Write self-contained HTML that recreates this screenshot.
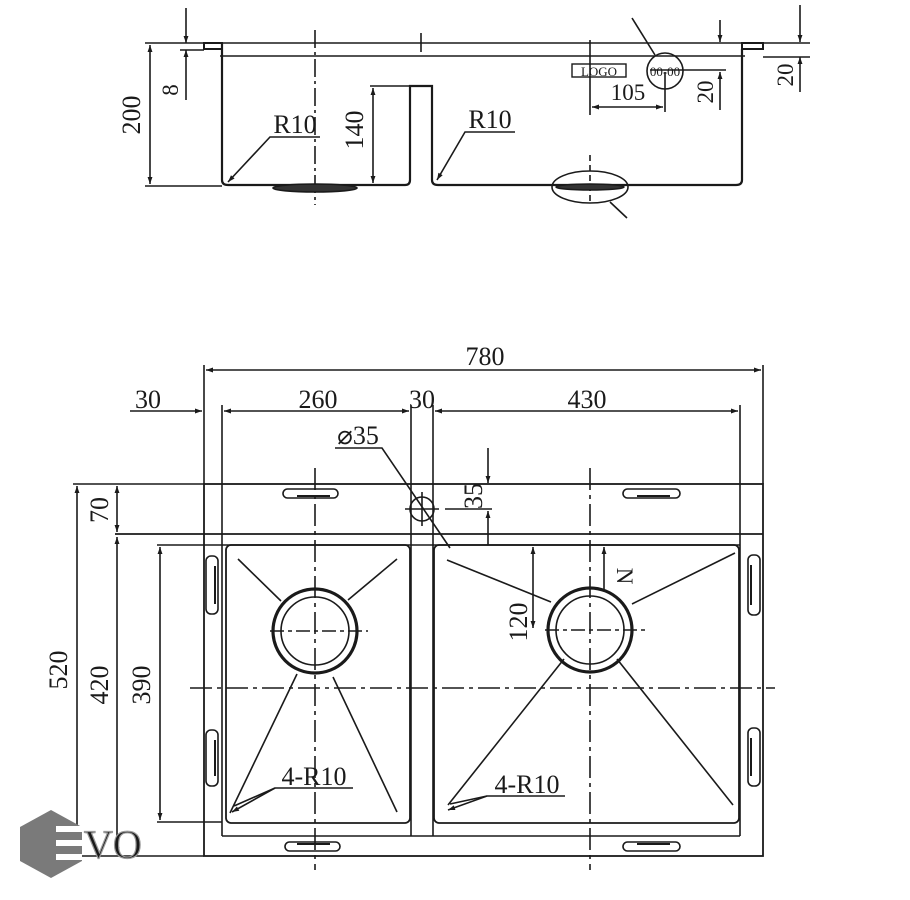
<!DOCTYPE html>
<html><head><meta charset="utf-8"><style>
html,body{margin:0;padding:0;background:#fff;}
svg{display:block;}
text{font-family:"Liberation Serif",serif;fill:#1a1a1a;}
</style></head><body>
<svg width="910" height="900" viewBox="0 0 910 900" xmlns="http://www.w3.org/2000/svg">
<defs>
<marker id="a" viewBox="0 0 10 10" refX="10" refY="5" markerWidth="10" markerHeight="7" orient="auto-start-reverse" markerUnits="userSpaceOnUse"><path d="M0,1.5 L10,5 L0,8.5 Z" fill="#1a1a1a"/></marker>
</defs>
<g stroke="#1a1a1a" stroke-width="1.6" fill="none">
<line x1="145" y1="43" x2="810" y2="43"/>
<line x1="220" y1="56" x2="745" y2="56"/>
<rect x="204" y="43" width="18" height="6" stroke-width="2"/>
<rect x="742" y="43" width="21" height="6" stroke-width="2"/>
<path d="M222,43 V180 Q222,185 228,185 H405 Q410,185 410,180 V86 H432 V180 Q432,185 438,185 H736 Q742,185 742,180 V49" stroke-width="2.2"/>
<line x1="145" y1="186" x2="222" y2="186"/>
<line x1="150" y1="45" x2="150" y2="184" marker-start="url(#a)" marker-end="url(#a)"/>
<line x1="186" y1="8" x2="186" y2="43" marker-end="url(#a)"/>
<line x1="186" y1="100" x2="186" y2="50" marker-end="url(#a)"/>
<line x1="180" y1="50" x2="204" y2="50"/>
<line x1="370" y1="86" x2="410" y2="86"/>
<line x1="373" y1="88" x2="373" y2="183" marker-start="url(#a)" marker-end="url(#a)"/>
<line x1="315" y1="30" x2="315" y2="205" stroke-dasharray="18,4,3,4"/>
<line x1="421" y1="33" x2="421" y2="52"/>
<line x1="590" y1="40" x2="590" y2="115"/>
<line x1="590" y1="155" x2="590" y2="205" stroke-dasharray="6,4"/>
<polyline points="320,137 270,137 228,182" marker-end="url(#a)"/>
<polyline points="515,132 465,132 437,180" marker-end="url(#a)"/>
<ellipse cx="315" cy="188" rx="42" ry="4" fill="#333"/>
<ellipse cx="590" cy="187" rx="38" ry="16"/>
<ellipse cx="590" cy="187" rx="34" ry="3" fill="#333"/>
<line x1="610" y1="202" x2="627" y2="218"/>
<rect x="572" y="64" width="54" height="13" stroke-width="1.4"/>
<circle cx="665" cy="71" r="18"/>
<line x1="632" y1="18" x2="655" y2="55"/>
<line x1="650" y1="70" x2="726" y2="70"/>
<line x1="665" y1="72" x2="665" y2="112"/>
<line x1="592" y1="107" x2="663" y2="107" marker-start="url(#a)" marker-end="url(#a)"/>
<line x1="720" y1="20" x2="720" y2="42" marker-end="url(#a)"/>
<line x1="720" y1="110" x2="720" y2="72" marker-end="url(#a)"/>
<line x1="800" y1="5" x2="800" y2="42" marker-end="url(#a)"/>
<line x1="800" y1="92" x2="800" y2="57" marker-end="url(#a)"/>
<line x1="763" y1="57" x2="810" y2="57"/>

<rect x="204" y="484" width="559" height="372" stroke-width="1.8"/>
<line x1="115" y1="534" x2="763" y2="534" stroke-width="1.8"/>
<line x1="157" y1="545" x2="740" y2="545"/>
<line x1="222" y1="836" x2="740" y2="836"/>
<line x1="157" y1="822" x2="222" y2="822"/>
<line x1="73" y1="484" x2="204" y2="484"/>
<line x1="73" y1="856" x2="204" y2="856"/>
<line x1="204" y1="365" x2="204" y2="484"/>
<line x1="763" y1="365" x2="763" y2="484"/>
<line x1="222" y1="405" x2="222" y2="836"/>
<line x1="411" y1="405" x2="411" y2="836"/>
<line x1="433" y1="405" x2="433" y2="836"/>
<line x1="740" y1="405" x2="740" y2="836"/>
<rect x="226" y="545" width="184" height="278" rx="5" stroke-width="1.8"/>
<rect x="434" y="545" width="305" height="278" rx="5" stroke-width="1.8"/>
<line x1="206" y1="370" x2="761" y2="370" marker-start="url(#a)" marker-end="url(#a)"/>
<line x1="130" y1="411" x2="202" y2="411" marker-end="url(#a)"/>
<line x1="224" y1="411" x2="409" y2="411" marker-start="url(#a)" marker-end="url(#a)"/>
<line x1="435" y1="411" x2="738" y2="411" marker-start="url(#a)" marker-end="url(#a)"/>
<line x1="77" y1="486" x2="77" y2="854" marker-start="url(#a)" marker-end="url(#a)"/>
<line x1="117" y1="486" x2="117" y2="532" marker-start="url(#a)" marker-end="url(#a)"/>
<line x1="117" y1="537" x2="117" y2="854" marker-start="url(#a)" marker-end="url(#a)"/>
<line x1="160" y1="547" x2="160" y2="820" marker-start="url(#a)" marker-end="url(#a)"/>
<line x1="190" y1="688" x2="775" y2="688" stroke-dasharray="22,5,4,5"/>
<line x1="315" y1="468" x2="315" y2="870" stroke-dasharray="22,5,4,5"/>
<line x1="590" y1="468" x2="590" y2="870" stroke-dasharray="22,5,4,5"/>
<line x1="270" y1="631" x2="368" y2="631" stroke-dasharray="14,4,4,4"/>
<line x1="545" y1="630" x2="645" y2="630" stroke-dasharray="14,4,4,4"/>
<circle cx="315" cy="631" r="42" stroke-width="3.2"/>
<circle cx="315" cy="631" r="34"/>
<circle cx="590" cy="630" r="42" stroke-width="3.2"/>
<circle cx="590" cy="630" r="34"/>
<line x1="238" y1="559" x2="281" y2="601"/>
<line x1="397" y1="559" x2="348" y2="600"/>
<line x1="297" y1="674" x2="230" y2="813"/>
<line x1="333" y1="677" x2="397" y2="812"/>
<line x1="447" y1="560" x2="551" y2="602"/>
<line x1="735" y1="553" x2="632" y2="604"/>
<line x1="564" y1="659" x2="448" y2="805"/>
<line x1="617" y1="659" x2="733" y2="805"/>
<rect x="283" y="489" width="55" height="9" rx="4.5"/>
<line x1="297" y1="496" x2="330" y2="496" stroke-width="2"/>
<rect x="623" y="489" width="57" height="9" rx="4.5"/>
<line x1="637" y1="496" x2="670" y2="496" stroke-width="2"/>
<rect x="285" y="842" width="55" height="9" rx="4.5"/>
<line x1="297" y1="844" x2="330" y2="844" stroke-width="2"/>
<rect x="623" y="842" width="57" height="9" rx="4.5"/>
<line x1="637" y1="844" x2="670" y2="844" stroke-width="2"/>
<rect x="206" y="556" width="12" height="58" rx="5"/>
<line x1="215" y1="566" x2="215" y2="604" stroke-width="2"/>
<rect x="206" y="730" width="12" height="56" rx="5"/>
<line x1="215" y1="740" x2="215" y2="776" stroke-width="2"/>
<rect x="748" y="555" width="12" height="60" rx="5"/>
<line x1="751" y1="565" x2="751" y2="605" stroke-width="2"/>
<rect x="748" y="728" width="12" height="58" rx="5"/>
<line x1="751" y1="738" x2="751" y2="776" stroke-width="2"/>
<circle cx="422" cy="509" r="12"/>
<line x1="405" y1="509" x2="439" y2="509"/>
<line x1="422" y1="492" x2="422" y2="526"/>
<polyline points="335,448 382,448 450,548"/>
<line x1="445" y1="509" x2="492" y2="509"/>
<line x1="488" y1="448" x2="488" y2="483" marker-end="url(#a)"/>
<line x1="488" y1="545" x2="488" y2="511" marker-end="url(#a)"/>
<line x1="533" y1="547" x2="533" y2="628" marker-start="url(#a)" marker-end="url(#a)"/>
<line x1="604" y1="590" x2="604" y2="547" marker-end="url(#a)"/>
<polyline points="353,788 275,788 232,812" marker-end="url(#a)"/>
<line x1="275" y1="788" x2="234" y2="806"/>
<polyline points="565,796 487,796 448,810" marker-end="url(#a)"/>
<line x1="487" y1="796" x2="450" y2="804"/>
</g>
<g font-size="26">
<text x="140" y="115" transform="rotate(-90 140 115)" text-anchor="middle">200</text>
<text x="178" y="90" transform="rotate(-90 178 90)" text-anchor="middle" font-size="23">8</text>
<text x="363" y="130" transform="rotate(-90 363 130)" text-anchor="middle">140</text>
<text x="295" y="133" text-anchor="middle">R10</text>
<text x="490" y="128" text-anchor="middle">R10</text>
<text x="628" y="100" text-anchor="middle" font-size="23">105</text>
<text x="713" y="92" transform="rotate(-90 713 92)" text-anchor="middle" font-size="23">20</text>
<text x="793" y="75" transform="rotate(-90 793 75)" text-anchor="middle" font-size="23">20</text>
<text x="599" y="76" text-anchor="middle" font-size="13">LOGO</text>
<text x="665" y="76" text-anchor="middle" font-size="13">00-00</text>
<text x="485" y="365" text-anchor="middle">780</text>
<text x="148" y="408" text-anchor="middle">30</text>
<text x="318" y="408" text-anchor="middle">260</text>
<text x="422" y="408" text-anchor="middle">30</text>
<text x="587" y="408" text-anchor="middle">430</text>
<text x="67" y="670" transform="rotate(-90 67 670)" text-anchor="middle">520</text>
<text x="108" y="510" transform="rotate(-90 108 510)" text-anchor="middle">70</text>
<text x="108" y="685" transform="rotate(-90 108 685)" text-anchor="middle">420</text>
<text x="150" y="685" transform="rotate(-90 150 685)" text-anchor="middle">390</text>
<text x="358" y="444" text-anchor="middle">⌀35</text>
<text x="482" y="496" transform="rotate(-90 482 496)" text-anchor="middle">35</text>
<text x="527" y="622" transform="rotate(-90 527 622)" text-anchor="middle">120</text>
<text x="617" y="576" transform="rotate(90 617 576)" text-anchor="middle" font-size="23">N</text>
<text x="314" y="785" text-anchor="middle">4-R10</text>
<text x="527" y="793" text-anchor="middle">4-R10</text>
</g>
<polygon points="51,810 82,827 82,861 51,878 20,861 20,827" fill="#7a7a7a"/>
<g fill="#fff"><rect x="56" y="826" width="26" height="6"/><rect x="56" y="840" width="26" height="6"/><rect x="56" y="854" width="26" height="6"/></g>
<text x="84" y="858" font-family="Liberation Sans, sans-serif" font-size="40" fill="#fff" stroke="#999" stroke-width="1.2">VO</text>
</svg>
</body></html>
